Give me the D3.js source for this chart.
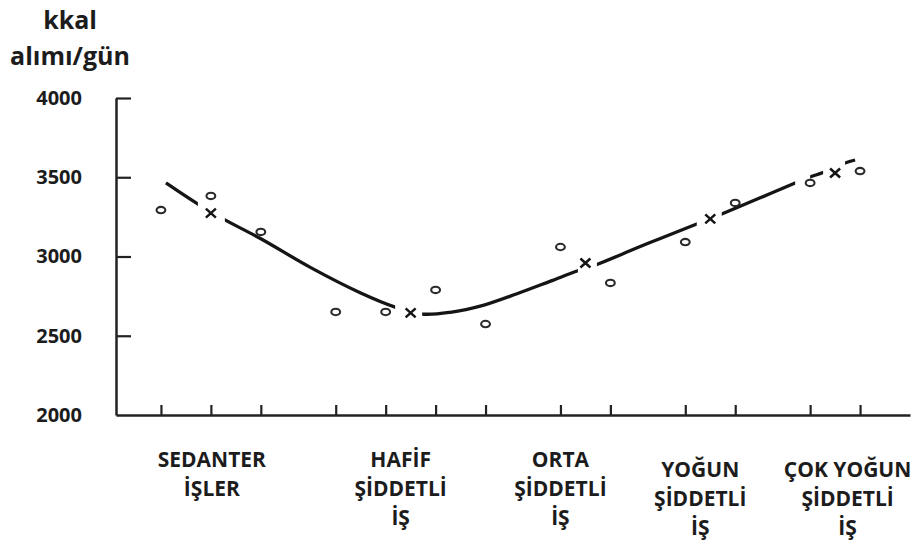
<!DOCTYPE html>
<html>
<head>
<meta charset="utf-8">
<script src="https://cdn.jsdelivr.net/npm/d3@7"></script>
<style>
  html, body { margin: 0; padding: 0; background: #fff; }
  svg { display: block; }
  text { font-family: "Open Sans", "Noto Sans", sans-serif; font-weight: 700; fill: #1c1c1c; }
</style>
</head>
<body>
<svg id="chart" width="922" height="542"></svg>
<script>
// ---- data ----
const yTitle = ["kkal", "alımı/gün"];
const yTicks = [2000, 2500, 3000, 3500, 4000];
// individual observations (circles)
const obsX = [1, 2, 3, 4.5, 5.5, 6.5, 7.5, 9, 10, 11.5, 12.5, 14, 15];
const obsY = [3293, 3382, 3155, 2650, 2650, 2789, 2574, 3060, 2833, 3091, 3338, 3464, 3539];
// group means (crosses)
const meanX = [2, 6, 9.5, 12, 14.5];
const meanY = [3274, 2644, 2959, 3237, 3527];
// fitted curve
const fitX = [1.1, 2.0, 3.0, 4.0, 5.0, 5.69, 6.23, 6.79, 7.45, 8.13, 8.79, 9.35, 9.73, 10.5, 11.0, 11.73, 12.23, 13.0, 13.7, 14.0, 14.26, 14.7, 14.9];
const fitY = [3464, 3280, 3112, 2930, 2770, 2681, 2637, 2648, 2692, 2765, 2843, 2910, 2950, 3050, 3114, 3205, 3268, 3370, 3464, 3502, 3530, 3590, 3609];
// breaks in the drawn curve (x intervals)
const gapStart = [1.74, 5.69, 9.35, 11.73, 13.70, 14.26];
const gapEnd   = [2.28, 6.23, 9.73, 12.23, 14.00, 14.70];
// activity categories
const catX = [2.02, 5.8, 9.0, 11.8, 14.75];
const catLines = [
  ["SEDANTER", "İŞLER"],
  ["HAFİF", "ŞİDDETLİ", "İŞ"],
  ["ORTA", "ŞİDDETLİ", "İŞ"],
  ["YOĞUN", "ŞİDDETLİ", "İŞ"],
  ["ÇOK YOĞUN", "ŞİDDETLİ", "İŞ"]
];

// ---- layout ----
const svg = d3.select("#chart");
const x = d3.scaleLinear().domain([0.1, 16]).range([116, 910]);
const y = d3.scaleLinear().domain([2000, 4000]).range([415, 98]);
const ink = "#222";

// y axis line + inward ticks
const yAx = svg.append("g").attr("transform", `translate(${x(0.1)},0)`)
  .call(d3.axisRight(y).tickValues(yTicks.filter(v => v > 2000)).tickSize(15).tickSizeOuter(0).tickFormat(""));
yAx.select(".domain").attr("stroke", ink).attr("stroke-width", 2.5);
yAx.selectAll(".tick line").attr("stroke", ink).attr("stroke-width", 2.2);

// y tick labels
const yLab = svg.append("g").attr("transform", `translate(${x(0.1)},0)`)
  .call(d3.axisLeft(y).tickValues(yTicks).tickSize(0).tickPadding(34).tickFormat(d3.format("d")));
yLab.select(".domain").remove();
yLab.selectAll("text").attr("font-size", 20).attr("font-family", "'Open Sans', sans-serif")
  .attr("font-weight", 700).attr("fill", "#1c1c1c");

// x axis line + upward ticks
const xAx = svg.append("g").attr("transform", `translate(0,${y(2000)})`)
  .call(d3.axisTop(x).tickValues(obsX).tickSize(10).tickSizeOuter(0).tickFormat(""));
xAx.select(".domain").attr("stroke", ink).attr("stroke-width", 2.5);
xAx.selectAll(".tick line").attr("stroke", ink).attr("stroke-width", 2.2);

// y title
svg.append("g").selectAll("text").data(yTitle).join("text")
  .attr("x", 70).attr("y", (d, i) => 29 + i * 36)
  .attr("text-anchor", "middle").attr("font-size", 25)
  .text(d => d);

// fitted curve with breaks (mask)
const mask = svg.append("defs").append("mask").attr("id", "gaps");
mask.append("rect").attr("x", 0).attr("y", 0).attr("width", 922).attr("height", 542).attr("fill", "#fff");
mask.selectAll("rect.g").data(gapStart).join("rect").attr("class", "g")
  .attr("x", d => x(d)).attr("y", 0)
  .attr("width", (d, i) => x(gapEnd[i]) - x(d)).attr("height", 542).attr("fill", "#000");

const fit = fitX.map((d, i) => [d, fitY[i]]);
svg.append("path").datum(fit)
  .attr("mask", "url(#gaps)")
  .attr("fill", "none").attr("stroke", "#151515").attr("stroke-width", 3.3)
  .attr("d", d3.line().x(d => x(d[0])).y(d => y(d[1])).curve(d3.curveCatmullRom.alpha(0.5)));

// observations
svg.append("g").selectAll("ellipse").data(obsX).join("ellipse")
  .attr("cx", d => x(d)).attr("cy", (d, i) => y(obsY[i]))
  .attr("rx", 4.4).attr("ry", 3.2)
  .attr("fill", "none").attr("stroke", "#2a2a2a").attr("stroke-width", 2.1);

// means
svg.append("g").selectAll("path").data(meanX).join("path")
  .attr("transform", (d, i) => `translate(${x(d)},${y(meanY[i])})`)
  .attr("d", "M-5,-4.5L5,4.5M-5,4.5L5,-4.5")
  .attr("stroke", "#151515").attr("stroke-width", 2.5).attr("fill", "none");

// category labels
const lineStart = [467, 467, 467, 477, 477];
const cats = svg.append("g");
catLines.forEach((lines, ci) => {
  cats.append("text")
    .attr("x", x(catX[ci])).attr("y", lineStart[ci])
    .attr("text-anchor", "middle").attr("font-size", 21)
    .selectAll("tspan").data(lines).join("tspan")
    .attr("x", x(catX[ci])).attr("dy", (d, i) => i === 0 ? 0 : 29)
    .text(d => d);
});
</script>
</body>
</html>
